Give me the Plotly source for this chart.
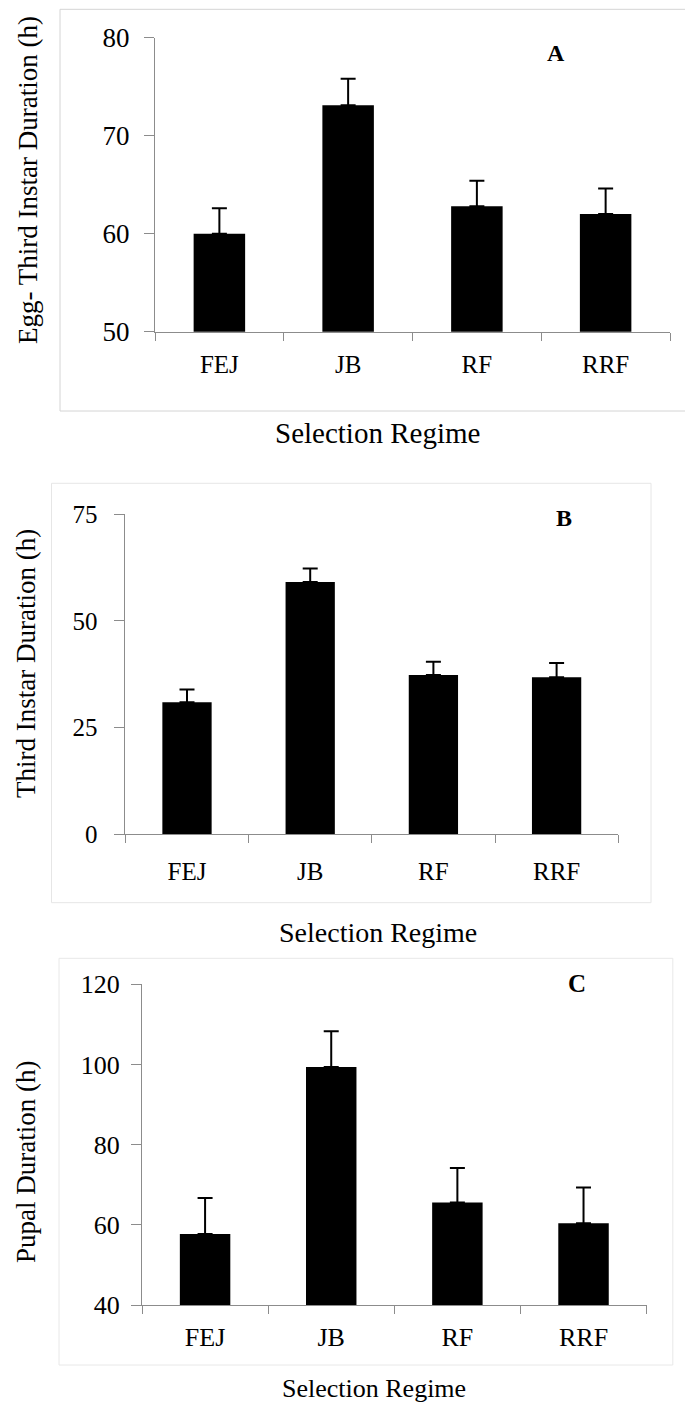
import plotly.graph_objects as go

W, H = 685, 1407

categories = ["FEJ", "JB", "RF", "RRF"]

egg_third_mean = [60.0, 73.1, 62.8, 62.0]
egg_third_err = [2.6, 2.7, 2.6, 2.6]

third_instar_mean = [30.9, 59.1, 37.3, 36.8]
third_instar_err = [3.0, 3.2, 3.1, 3.3]

pupal_mean = [57.7, 99.4, 65.6, 60.4]
pupal_err = [9.0, 8.9, 8.6, 8.9]

ticks_a = [50, 60, 70, 80]
ticks_b = [0, 25, 50, 75]
ticks_c = [40, 60, 80, 100, 120]

SERIF = "Liberation Serif"
AXIS_GRAY = "#8c8c8c"


def px(x):
    return x / W


def py(y):
    return 1 - y / H


fig = go.Figure()

panels = [
    dict(mean=egg_third_mean, err=egg_third_err, xa="x", ya="y"),
    dict(mean=third_instar_mean, err=third_instar_err, xa="x2", ya="y2"),
    dict(mean=pupal_mean, err=pupal_err, xa="x3", ya="y3"),
]
for p in panels:
    fig.add_trace(go.Bar(
        x=categories, y=p["mean"], xaxis=p["xa"], yaxis=p["ya"],
        width=0.4, marker=dict(color="black", line=dict(width=0)),
        error_y=dict(type="data", array=p["err"], arrayminus=[0] * len(p["err"]),
                     symmetric=False, color="black", thickness=2, width=7.5),
        showlegend=False, hoverinfo="x+y",
    ))


def xaxis(domain, anchor, size, standoff):
    return dict(domain=domain, anchor=anchor, showline=True, linecolor=AXIS_GRAY, linewidth=1,
                ticks="outside", tickson="boundaries", ticklen=8, tickcolor=AXIS_GRAY,
                tickfont=dict(family=SERIF, size=size, color="black"), automargin=False,
                ticklabelstandoff=standoff, showgrid=False, zeroline=False, fixedrange=True)


def yaxis(domain, anchor, rng, tickvals, size, standoff):
    return dict(domain=domain, anchor=anchor, range=rng, tickvals=tickvals, showline=True,
                linecolor=AXIS_GRAY, linewidth=1, ticks="outside", ticklen=10, tickcolor=AXIS_GRAY,
                tickfont=dict(family=SERIF, size=size, color="black"), automargin=False,
                ticklabelstandoff=standoff, showgrid=False, zeroline=False, fixedrange=True)


fig.update_layout(
    width=W, height=H, autosize=False, margin=dict(l=0, r=0, t=0, b=0, pad=0, autoexpand=False),
    paper_bgcolor="white", plot_bgcolor="white", bargap=0.6,
    font=dict(family=SERIF, color="black"),
    xaxis=xaxis([px(155), px(670)], "y", 25, 10),
    yaxis=yaxis([py(331.7), py(37.7)], "x", [50, 80], ticks_a, 27, 9),
    xaxis2=xaxis([px(125.4), px(618.2)], "y2", 25, 15),
    yaxis2=yaxis([py(834), py(514.3)], "x2", [0, 75], ticks_b, 25, 12),
    xaxis3=xaxis([px(142), px(646.6)], "y3", 26, 9),
    yaxis3=yaxis([py(1305), py(984.3)], "x3", [40, 120], ticks_c, 26, 6),
)

annotations = [
    dict(text="Egg- Third Instar Duration (h)", x=px(28), y=py(180), size=27, angle=-90),
    dict(text="Selection Regime", x=px(377), y=py(433), size=29, angle=0),
    dict(text="<b>A</b>", x=px(556), y=py(53), size=24, angle=0),
    dict(text="Third Instar Duration (h)", x=px(26), y=py(664), size=27, angle=-90),
    dict(text="Selection Regime", x=px(378), y=py(933), size=28, angle=0),
    dict(text="<b>B</b>", x=px(564), y=py(518), size=24, angle=0),
    dict(text="Pupal Duration (h)", x=px(26), y=py(1162), size=27, angle=-90),
    dict(text="Selection Regime", x=px(374), y=py(1388), size=26, angle=0),
    dict(text="<b>C</b>", x=px(577), y=py(983), size=25, angle=0),
]
for a in annotations:
    fig.add_annotation(text=a["text"], x=a["x"], y=a["y"], xref="paper", yref="paper",
                       xanchor="center", yanchor="middle", showarrow=False, textangle=a["angle"],
                       font=dict(family=SERIF, size=a["size"], color="black"))

# panel frames
frames = [
    dict(x0=60, y0=9.3, x1=700, y1=411, color="#d4d4d4"),
    dict(x0=51.5, y0=483.3, x1=651, y1=902.7, color="#e6e6e6"),
    dict(x0=59, y0=958.3, x1=672.8, y1=1365, color="#e8e8e8"),
]
for f in frames:
    fig.add_shape(type="rect", xref="paper", yref="paper",
                  x0=px(f["x0"]), x1=px(f["x1"]), y0=py(f["y1"]), y1=py(f["y0"]),
                  line=dict(color=f["color"], width=1), fillcolor="rgba(0,0,0,0)", layer="below")

fig.write_html("out.html", config={"displayModeBar": False},
               post_script="document.body.style.margin='0px';document.body.style.overflow='hidden';")
